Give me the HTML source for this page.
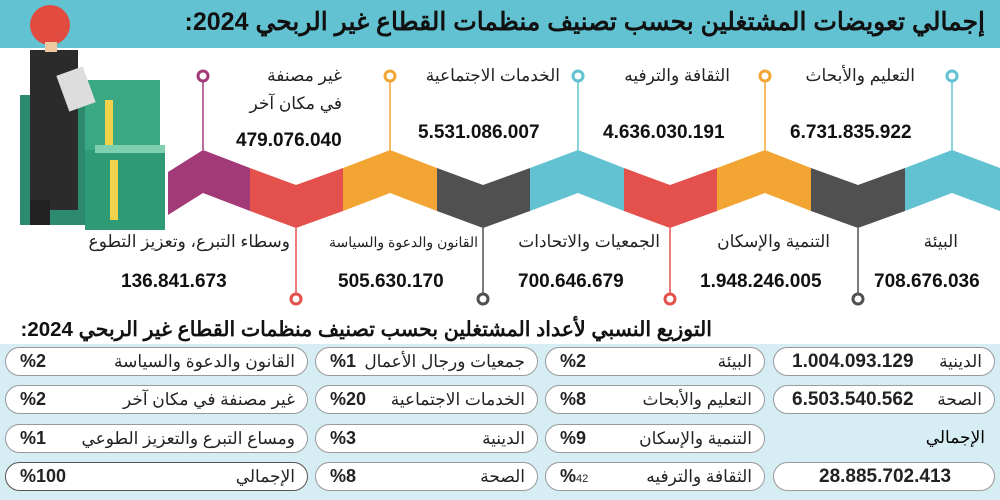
<!DOCTYPE html>
<html><head><meta charset="utf-8"><style>
body{margin:0;width:1000px;height:500px;overflow:hidden;background:#fff;font-family:"Liberation Sans","Noto Sans CJK SC",sans-serif;position:relative}
.a{position:absolute;white-space:nowrap}
.hd{left:0;top:0;width:1000px;height:48px;background:#62c2d1}
.t{right:15px;top:7px;font-size:25px;font-weight:bold;color:#111}
.lb{font-size:17px;color:#222;text-align:right}
.nm{font-size:19px;font-weight:bold;color:#111}
.pill{position:absolute;height:29px;border:1.5px solid #9a9a9a;border-radius:15px;background:#fff;box-sizing:border-box;font-size:17px;color:#222}
.pill .l{position:absolute;right:12px;top:4px}
.pill .p{position:absolute;left:14px;top:3px;font-weight:bold;font-size:18px}
</style></head><body>
<div class="a hd"></div>
<div class="a t" dir="rtl">إجمالي تعويضات المشتغلين بحسب تصنيف منظمات القطاع غير الربحي 2024:</div>
<svg class="a" style="left:0;top:0" width="1000" height="320">
<g>
<rect x="20" y="95" width="70" height="130" fill="#2e8a6e"/>
<rect x="85" y="80" width="75" height="70" fill="#3aa883"/>
<rect x="85" y="150" width="80" height="80" fill="#2e9a76"/>
<rect x="105" y="100" width="8" height="50" fill="#f2d24a"/>
<rect x="110" y="160" width="8" height="60" fill="#f2d24a"/>
<rect x="95" y="145" width="70" height="8" fill="#7fd0b0"/>
<rect x="30" y="50" width="48" height="160" fill="#2b2b2b"/>
<rect x="30" y="200" width="20" height="25" fill="#222"/>
<circle cx="50" cy="25" r="20" fill="#e24b3f"/>
<rect x="45" y="42" width="12" height="10" fill="#f0c8a0"/>
<rect x="62" y="70" width="28" height="38" fill="#ddd" transform="rotate(-20 76 89)"/>
</g>
<g>
<polygon points="168,172 203,150 250,168 250,211 203,193 168,215" fill="#a33a78"/>
<polygon points="250,168 296,185 343,168 343,211 296,228 250,211" fill="#e4504b"/>
<polygon points="343,168 390,150 437,168 437,211 390,193 343,211" fill="#f3a533"/>
<polygon points="437,168 483,185 530,168 530,211 483,228 437,211" fill="#505050"/>
<polygon points="530,168 578,150 624,168 624,211 578,193 530,211" fill="#62c2d1"/>
<polygon points="624,168 670,185 717,168 717,211 670,228 624,211" fill="#e4504b"/>
<polygon points="717,168 765,150 811,168 811,211 765,193 717,211" fill="#f3a533"/>
<polygon points="811,168 858,185 905,168 905,211 858,228 811,211" fill="#505050"/>
<polygon points="905,168 952,150 1000,168 1000,211 952,193 905,211" fill="#62c2d1"/>
</g>
<g stroke-width="1.5" fill="#fff">
<line x1="203" y1="82" x2="203" y2="150" stroke="#a33a78"/><circle cx="203" cy="76" r="5" stroke="#a33a78" stroke-width="3"/>
<line x1="390" y1="82" x2="390" y2="150" stroke="#f3a533"/><circle cx="390" cy="76" r="5" stroke="#f3a533" stroke-width="3"/>
<line x1="578" y1="82" x2="578" y2="150" stroke="#62c2d1"/><circle cx="578" cy="76" r="5" stroke="#62c2d1" stroke-width="3"/>
<line x1="765" y1="82" x2="765" y2="150" stroke="#f3a533"/><circle cx="765" cy="76" r="5" stroke="#f3a533" stroke-width="3"/>
<line x1="952" y1="82" x2="952" y2="150" stroke="#62c2d1"/><circle cx="952" cy="76" r="5" stroke="#62c2d1" stroke-width="3"/>
<line x1="296" y1="228" x2="296" y2="294" stroke="#e4504b"/><circle cx="296" cy="299" r="5" stroke="#e4504b" stroke-width="3"/>
<line x1="483" y1="228" x2="483" y2="294" stroke="#505050"/><circle cx="483" cy="299" r="5" stroke="#505050" stroke-width="3"/>
<line x1="670" y1="228" x2="670" y2="294" stroke="#e4504b"/><circle cx="670" cy="299" r="5" stroke="#e4504b" stroke-width="3"/>
<line x1="858" y1="228" x2="858" y2="294" stroke="#505050"/><circle cx="858" cy="299" r="5" stroke="#505050" stroke-width="3"/>
</g>
</svg>
<div class="a lb" style="right:85px;top:66px" dir="rtl">التعليم والأبحاث</div>
<div class="a nm" style="left:790px;top:122px">6.731.835.922</div>
<div class="a lb" style="right:270px;top:66px" dir="rtl">الثقافة والترفيه</div>
<div class="a nm" style="left:603px;top:122px">4.636.030.191</div>
<div class="a lb" style="right:440px;top:66px" dir="rtl">الخدمات الاجتماعية</div>
<div class="a nm" style="left:418px;top:122px">5.531.086.007</div>
<div class="a lb" style="right:658px;top:62px;line-height:28px" dir="rtl">غير مصنفة<br>في مكان آخر</div>
<div class="a nm" style="left:236px;top:130px">479.076.040</div>
<div class="a lb" style="right:42px;top:232px" dir="rtl">البيئة</div>
<div class="a nm" style="left:874px;top:271px">708.676.036</div>
<div class="a lb" style="right:170px;top:232px" dir="rtl">التنمية والإسكان</div>
<div class="a nm" style="left:700px;top:271px">1.948.246.005</div>
<div class="a lb" style="right:340px;top:232px" dir="rtl">الجمعيات والاتحادات</div>
<div class="a nm" style="left:518px;top:271px">700.646.679</div>
<div class="a lb" style="right:522px;top:234px;font-size:14px" dir="rtl">القانون والدعوة والسياسة</div>
<div class="a nm" style="left:338px;top:271px">505.630.170</div>
<div class="a lb" style="right:710px;top:232px" dir="rtl">وسطاء التبرع، وتعزيز التطوع</div>
<div class="a nm" style="left:121px;top:271px">136.841.673</div>

<div class="a" style="right:288px;top:317px;font-size:20.5px;font-weight:bold;color:#111" dir="rtl">التوزيع النسبي لأعداد المشتغلين بحسب تصنيف منظمات القطاع غير الربحي 2024:</div>
<div class="a" style="left:0;top:344px;width:1000px;height:156px;background:#d5edf3"></div>

<div class="pill" style="left:773px;top:347px;width:222px"><span class="l" dir="rtl">الدينية</span><span class="p" style="left:18px;font-size:19px">1.004.093.129</span></div>
<div class="pill" style="left:773px;top:385px;width:222px"><span class="l" dir="rtl">الصحة</span><span class="p" style="left:18px;font-size:19px">6.503.540.562</span></div>
<div class="a" style="right:15px;top:428px;font-size:17px" dir="rtl">الإجمالي</div>
<div class="pill" style="left:773px;top:462px;width:222px"><span class="p" style="left:45px;font-size:19px">28.885.702.413</span></div>

<div class="pill" style="left:545px;top:347px;width:220px"><span class="l" dir="rtl">البيئة</span><span class="p">%2</span></div>
<div class="pill" style="left:545px;top:385px;width:220px"><span class="l" dir="rtl">التعليم والأبحاث</span><span class="p">%8</span></div>
<div class="pill" style="left:545px;top:424px;width:220px"><span class="l" dir="rtl">التنمية والإسكان</span><span class="p">%9</span></div>
<div class="pill" style="left:545px;top:462px;width:220px"><span class="l" dir="rtl">الثقافة والترفيه</span><span class="p">%<span style="font-size:11px;font-weight:normal">42</span></span></div>

<div class="pill" style="left:315px;top:347px;width:223px"><span class="l" dir="rtl">جمعيات ورجال الأعمال</span><span class="p">%1</span></div>
<div class="pill" style="left:315px;top:385px;width:223px"><span class="l" dir="rtl">الخدمات الاجتماعية</span><span class="p">%20</span></div>
<div class="pill" style="left:315px;top:424px;width:223px"><span class="l" dir="rtl">الدينية</span><span class="p">%3</span></div>
<div class="pill" style="left:315px;top:462px;width:223px"><span class="l" dir="rtl">الصحة</span><span class="p">%8</span></div>

<div class="pill" style="left:5px;top:347px;width:303px"><span class="l" dir="rtl">القانون والدعوة والسياسة</span><span class="p">%2</span></div>
<div class="pill" style="left:5px;top:385px;width:303px"><span class="l" dir="rtl">غير مصنفة في مكان آخر</span><span class="p">%2</span></div>
<div class="pill" style="left:5px;top:424px;width:303px"><span class="l" dir="rtl">ومساع التبرع والتعزيز الطوعي</span><span class="p">%1</span></div>
<div class="pill" style="left:5px;top:462px;width:303px;border-color:#555"><span class="l" dir="rtl">الإجمالي</span><span class="p">%100</span></div>
</body></html>
